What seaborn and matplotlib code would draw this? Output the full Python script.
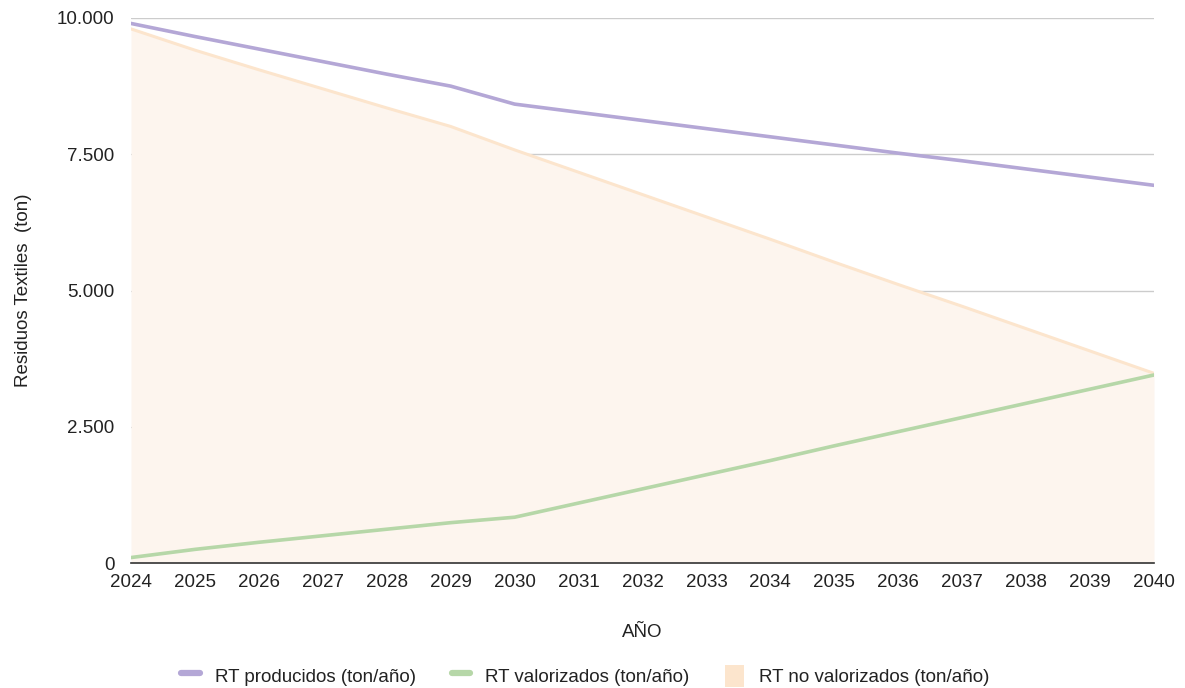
import matplotlib
matplotlib.use("Agg")
import matplotlib.pyplot as plt
import matplotlib.ticker as mticker
from matplotlib.lines import Line2D
from matplotlib.patches import Patch
import numpy as np
import pandas as pd
import seaborn as sns

# Residuos textiles (ton/año) por año
years = list(range(2024, 2041))
producidos = [9900, 9660, 9430, 9200, 8970, 8750, 8420, 8270, 8120, 7970,
              7820, 7670, 7520, 7380, 7230, 7080, 6930]
valorizados = [100, 250, 380, 500, 620, 740, 840, 1100, 1360, 1620,
               1880, 2150, 2410, 2670, 2930, 3190, 3450]
no_valorizados = [p - v for p, v in zip(producidos, valorizados)]

labels = ["RT producidos (ton/año)", "RT valorizados (ton/año)",
          "RT no valorizados (ton/año)"]
colors = ["#b4a7d6", "#b6d7a8", "#fce5cd"]

df = pd.DataFrame({"year": years, "prod": producidos, "val": valorizados,
                   "noval": no_valorizados})

sns.set_theme(style="white")
plt.rcParams["font.family"] = ["Liberation Sans", "DejaVu Sans"]

FS = 13.5
fig = plt.figure(figsize=(11.85, 6.88), dpi=100)
ax = fig.add_axes([131 / 1185, 1 - 563 / 688, (1154 - 131) / 1185, (563 - 18) / 688])

# Área de no valorizados
ax.fill_between(df["year"], 0, df["noval"], color="#fdf5ee", lw=0, zorder=1)
sns.lineplot(data=df, x="year", y="noval", ax=ax, color=colors[2], lw=2.2, zorder=2)
sns.lineplot(data=df, x="year", y="prod", ax=ax, color=colors[0], lw=2.6, zorder=3)
sns.lineplot(data=df, x="year", y="val", ax=ax, color=colors[1], lw=2.6, zorder=3)

ax.set_xlim(2024, 2040)
ax.set_ylim(0, 10000)
ax.set_xticks(years)
ax.set_xticklabels([str(y) for y in years])
ax.set_yticks([0, 2500, 5000, 7500, 10000])
ax.yaxis.set_major_formatter(mticker.FuncFormatter(
    lambda v, _: f"{int(v):,}".replace(",", ".")))
ax.tick_params(axis="both", labelsize=FS, colors="#222222", length=0)
ax.tick_params(axis="x", pad=8)
ax.tick_params(axis="y", pad=12)
ax.grid(axis="y", color="#cccccc", lw=1)
ax.grid(axis="x", visible=False)
for side in ["left", "right", "top"]:
    ax.spines[side].set_visible(False)
ax.spines["bottom"].set_color("#333333")
ax.spines["bottom"].set_linewidth(1.2)
ax.spines["bottom"].set_zorder(4)

ax.set_xlabel("AÑO", fontsize=FS, color="#222222", labelpad=24)
ax.set_ylabel("Residuos Textiles  (ton)", fontsize=FS, color="#222222", labelpad=18)

handles = [Line2D([0], [0], color=colors[0], lw=4.5),
           Line2D([0], [0], color=colors[1], lw=4.5),
           Patch(facecolor=colors[2], edgecolor="none")]
fig.legend(handles, labels, loc="center", bbox_to_anchor=(0.494, 1 - 676 / 688),
           ncol=3, frameon=False, fontsize=FS, handlelength=1.0, handleheight=1.5,
           columnspacing=1.9, handletextpad=0.8, labelcolor="#222222")

fig.savefig("out.png", dpi=100)
